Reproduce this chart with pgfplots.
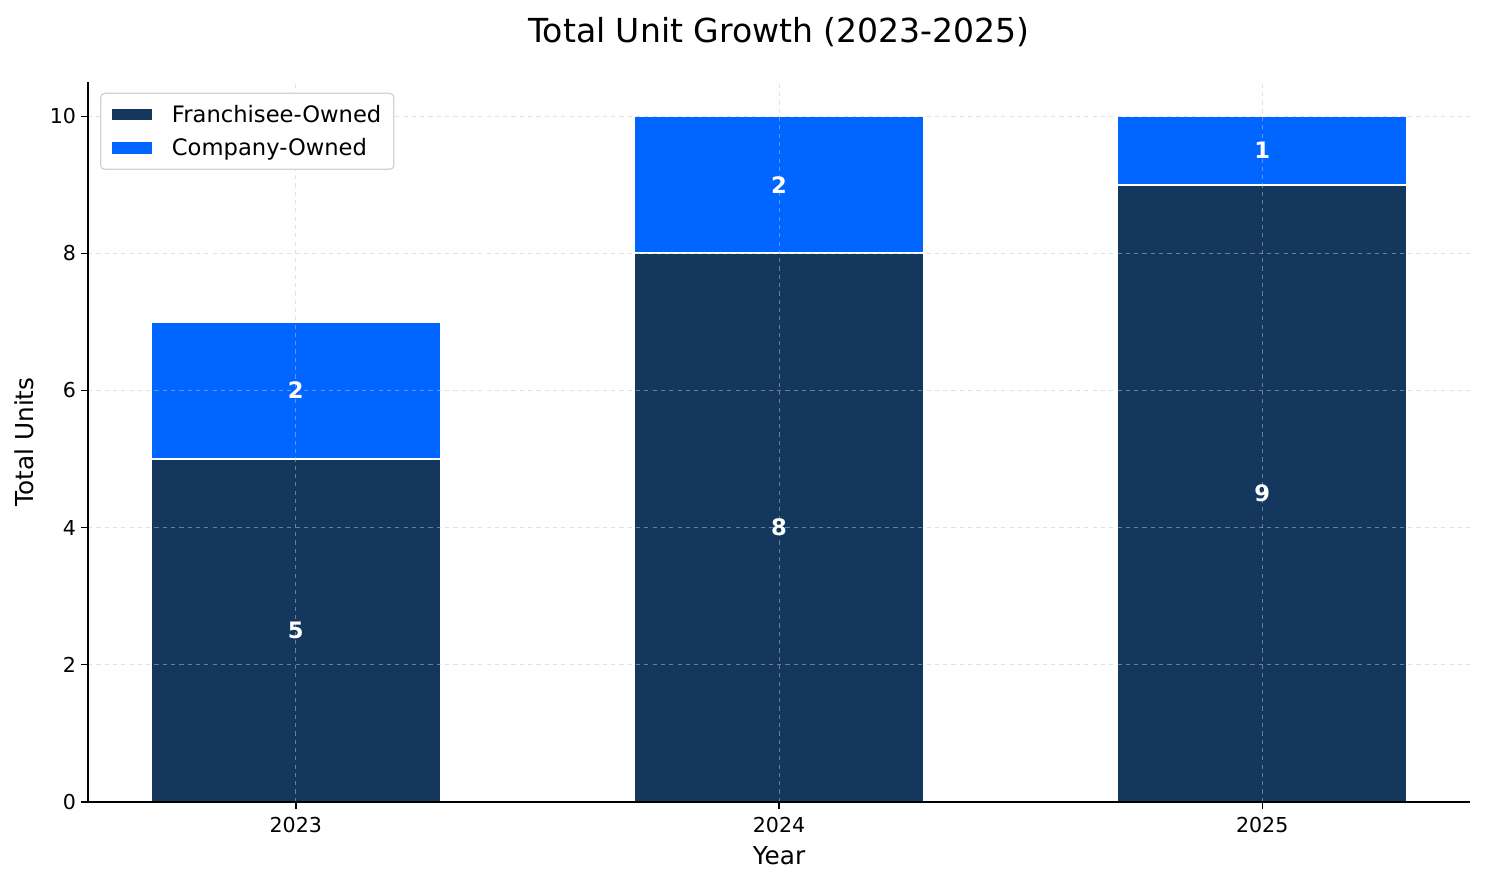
\documentclass[border=0pt]{standalone}
\usepackage{pgfplots}
\usepackage{pgfplotstable}
\pgfplotsset{compat=1.18}
\usepackage{fontspec}
\setmainfont{DejaVu Sans}

\definecolor{navy}{HTML}{14375E}
\definecolor{brightblue}{HTML}{0066FF}

\pgfplotstableread{
x year fr co
0 2023 5 2
1 2024 8 2
2 2025 9 1
}\units

\begin{document}
\begin{tikzpicture}
\begin{axis}[
    name=ax,
    scale only axis,
    width=995bp, height=518.4bp,
    ybar stacked,
    bar width=0.6,
    xmin=-0.43, xmax=2.43,
    ymin=0, ymax=10.5,
    xtick={0,1,2},
    xticklabels={2023,2024,2025},
    ytick={0,2,4,6,8,10},
    axis lines*=left,
    axis line style={line width=1.1bp},
    tick style={black, line width=1bp},
    major tick length=5.2bp,
    tick align=outside,
    axis on top,
    grid=major,
    major grid style={dashed, line width=0.6bp, gray!45, opacity=0.5},
    ticklabel style={font=\fontsize{14.8bp}{16bp}\selectfont},
    xticklabel style={yshift=-2.5bp},
    /pgf/number format/assume math mode=true,
    xlabel={Year},
    ylabel={Total Units},
    label style={font=\fontsize{17.8bp}{19bp}\selectfont},
    xlabel style={yshift=-3bp},
    ylabel style={yshift=4.5bp},
    title={Total Unit Growth (2023-2025)},
    title style={font=\fontsize{23.8bp}{26bp}\selectfont, yshift=16bp},
    legend style={at={(rel axis cs:0.0087,0.985)}, anchor=north west,
        draw=gray!35, rounded corners=3bp, line width=0.9bp,
        font=\fontsize{16.3bp}{18bp}\selectfont,
        row sep=6bp, inner xsep=7bp, inner ysep=6.5bp},
    legend cell align=left,
    legend image code/.code={
        \fill[#1, sharp corners] (0bp,-4.75bp) rectangle (30bp,4.75bp);
        \path (30bp,0bp) -- (41bp,0bp);},
    nodes near coords,
    point meta=explicit,
    every node near coord/.append style={
        anchor=center, text=white,
        font=\fontsize{16.3bp}{18bp}\selectfont\bfseries},
]
\addplot[fill=navy, draw=white, line width=1.3bp]
    table[x=x, y=fr, meta=fr] {\units};
\addlegendentry{Franchisee-Owned}
\addplot[fill=brightblue, draw=white, line width=1.3bp]
    table[x=x, y=co, meta=co] {\units};
\addlegendentry{Company-Owned}
\end{axis}
\path ([shift={(-63.4bp,-59bp)}]ax.south west) rectangle ([shift={(10.8bp,59bp)}]ax.north east);
\end{tikzpicture}
\end{document}
